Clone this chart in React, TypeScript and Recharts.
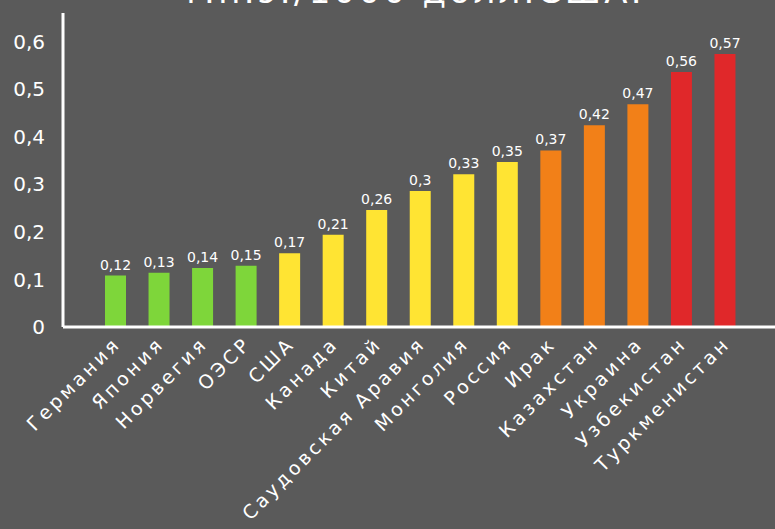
import React from 'react';
import { BarChart, Bar, XAxis, YAxis, Cell, LabelList } from 'recharts';

const categories = ['Германия', 'Япония', 'Норвегия', 'ОЭСР', 'США', 'Канада', 'Китай', 'Саудовская Аравия', 'Монголия', 'Россия', 'Ирак', 'Казахстан', 'Украина', 'Узбекистан', 'Туркменистан'];
const values = [0.108, 0.114, 0.124, 0.129, 0.155, 0.194, 0.246, 0.286, 0.321, 0.347, 0.371, 0.424, 0.468, 0.536, 0.574];
const valueLabels = ['0,12', '0,13', '0,14', '0,15', '0,17', '0,21', '0,26', '0,3', '0,33', '0,35', '0,37', '0,42', '0,47', '0,56', '0,57'];
const groups = ['g', 'g', 'g', 'g', 'y', 'y', 'y', 'y', 'y', 'y', 'o', 'o', 'o', 'r', 'r'];
const yTicks = [0, 0.1, 0.2, 0.3, 0.4, 0.5, 0.6];
const yTickLabels = ['0', '0,1', '0,2', '0,3', '0,4', '0,5', '0,6'];
const title = 'т.н.э./1000 долл.США.';

const palette: Record<string, string> = { g: '#7ed63a', y: '#ffe433', o: '#f28018', r: '#e0282a' };
const BG = '#5a5a5a';
const FONT = '"DejaVu Sans", sans-serif';

const data = categories.map((c, i) => ({ name: c, value: values[i], label: valueLabels[i], group: groups[i] }));

const XTick = (props: any) => {
  const { x, y, payload } = props;
  const tx = x + 6;
  const ty = y + 10;
  return (
    <text x={tx} y={ty} transform={`rotate(-45 ${tx} ${ty})`} textAnchor="end" fill="#ffffff" fontSize={19} fontWeight={500} fontFamily={FONT} letterSpacing={3.2}>
      {payload.value}
    </text>
  );
};

export default function App() {
  return (
    <div style={{ position: 'absolute', left: 0, top: 0, width: 775, height: 529, background: BG, overflow: 'hidden', fontFamily: FONT }}>
      <div style={{ position: 'absolute', left: 181, top: -26, fontSize: 34, lineHeight: '34px', color: '#ffffff', whiteSpace: 'nowrap', letterSpacing: 3.3 }}>
        {title}
      </div>
      <BarChart width={775} height={529} data={data} margin={{ top: 13, right: 0, bottom: 0, left: 0 }}>
        <XAxis
          dataKey="name"
          interval={0}
          height={202}
          padding={{ left: 31, right: 28 }}
          axisLine={{ stroke: '#ffffff', strokeWidth: 3 }}
          tickLine={false}
          tick={<XTick />}
        />
        <YAxis
          width={63}
          domain={[0, 0.66]}
          ticks={yTicks}
          allowDataOverflow
          axisLine={{ stroke: '#ffffff', strokeWidth: 3 }}
          tickLine={false}
          tickMargin={12}
          tick={{ fill: '#ffffff', fontSize: 20, fontFamily: FONT }}
          tickFormatter={(v: number) => yTickLabels[yTicks.indexOf(v)] ?? String(v)}
        />
        <Bar dataKey="value" barSize={21} isAnimationActive={false}>
          {data.map((d, i) => (
            <Cell key={i} fill={palette[d.group]} />
          ))}
          <LabelList dataKey="label" position="top" offset={6} fill="#ffffff" fontSize={14} fontFamily={FONT} />
        </Bar>
      </BarChart>
    </div>
  );
}
